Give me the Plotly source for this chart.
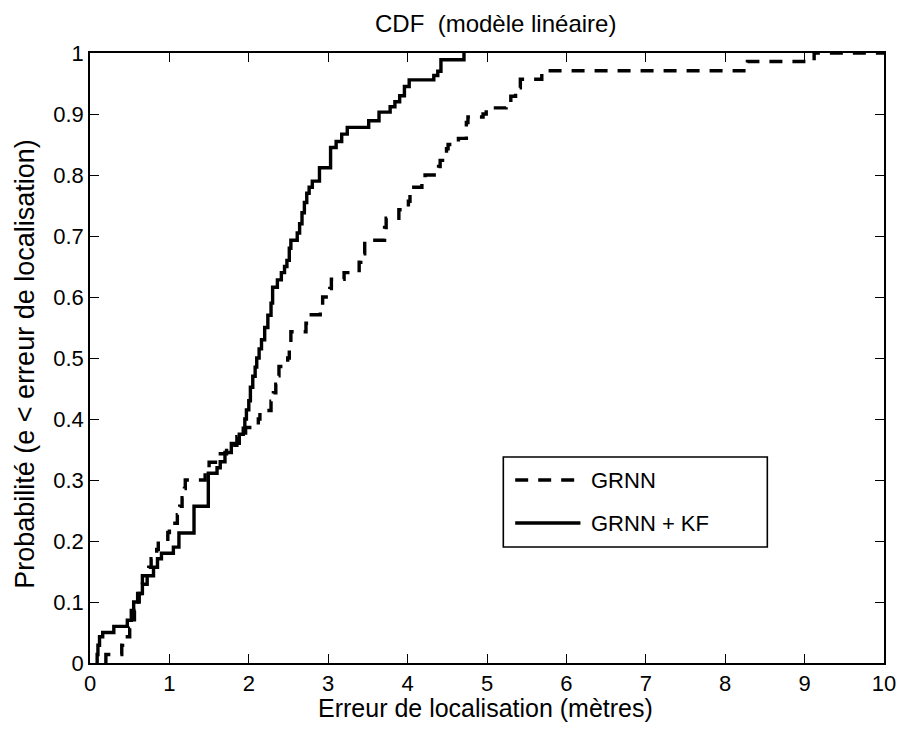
import plotly.graph_objects as go

# Empirical CDF breakpoints of the localisation error (metres)
kf_err = [0.09, 0.09, 0.10, 0.12, 0.16, 0.30, 0.47, 0.52, 0.55, 0.60, 0.66,
          0.72, 0.80, 0.85, 0.90, 1.05, 1.12, 1.31, 1.49, 1.60, 1.64,
          1.70, 1.78, 1.88, 1.93, 1.95, 1.97, 2.00, 2.02, 2.05, 2.08,
          2.10, 2.13, 2.16, 2.20, 2.24, 2.28, 2.30, 2.36, 2.41, 2.45,
          2.48, 2.51, 2.53, 2.61, 2.64, 2.67, 2.70, 2.73, 2.76, 2.80,
          2.89, 3.03, 3.10, 3.17, 3.24, 3.51, 3.64, 3.78, 3.84, 3.90,
          3.96, 4.02, 4.33, 4.38, 4.42, 4.71]
kf_prob = [0.0, 0.014, 0.029, 0.043, 0.05, 0.06, 0.07, 0.086, 0.10, 0.114, 0.129,
           0.143, 0.157, 0.171, 0.18, 0.19, 0.213, 0.257, 0.311, 0.32, 0.33,
           0.345, 0.36, 0.375, 0.385, 0.40, 0.415, 0.43, 0.452, 0.47, 0.485,
           0.50, 0.515, 0.53, 0.55, 0.57, 0.59, 0.616, 0.628, 0.64, 0.65,
           0.66, 0.68, 0.693, 0.705, 0.72, 0.738, 0.755, 0.77, 0.78, 0.79,
           0.812, 0.845, 0.855, 0.867, 0.878, 0.889, 0.903, 0.912, 0.92, 0.93,
           0.945, 0.956, 0.963, 0.97, 0.989, 1.0]

grnn_err = [0.20, 0.20, 0.40, 0.41, 0.50, 0.53, 0.56, 0.58, 0.62, 0.64, 0.66,
            0.74, 0.77, 0.84, 0.86, 0.98, 1.00, 1.10, 1.13, 1.16, 1.19,
            1.20, 1.45, 1.50, 1.62, 1.72, 1.85, 1.96, 2.12, 2.14, 2.28,
            2.31, 2.34, 2.36, 2.38, 2.49, 2.51, 2.53, 2.72, 2.75, 2.90,
            2.93, 3.02, 3.04, 3.20, 3.39, 3.41, 3.46, 3.71, 3.73, 3.89,
            4.01, 4.03, 4.05, 4.18, 4.22, 4.39, 4.41, 4.49, 4.51, 4.64,
            4.74, 4.76, 4.95, 4.99, 5.24, 5.30, 5.36, 5.42, 5.69, 8.28,
            9.12, 10.0]
grnn_prob = [0.0, 0.014, 0.029, 0.043, 0.057, 0.071, 0.086, 0.10, 0.114, 0.129, 0.143,
             0.157, 0.171, 0.186, 0.20, 0.214, 0.229, 0.243, 0.257, 0.271, 0.286,
             0.30, 0.314, 0.329, 0.343, 0.357, 0.371, 0.386, 0.40, 0.414, 0.429,
             0.443, 0.457, 0.471, 0.486, 0.50, 0.514, 0.543, 0.557, 0.571, 0.586,
             0.60, 0.614, 0.629, 0.64, 0.657, 0.671, 0.693, 0.714, 0.729, 0.743,
             0.757, 0.771, 0.78, 0.786, 0.80, 0.814, 0.824, 0.843, 0.85, 0.86,
             0.886, 0.895, 0.90, 0.91, 0.914, 0.929, 0.943, 0.957, 0.971, 0.986,
             1.0, 1.0]

x_ticks = list(range(0, 11))
y_ticks = [0, 0.1, 0.2, 0.3, 0.4, 0.5, 0.6, 0.7, 0.8, 0.9, 1]
y_tick_text = ["0", "0.1", "0.2", "0.3", "0.4", "0.5", "0.6", "0.7", "0.8", "0.9", "1"]

series_names = ["GRNN", "GRNN + KF"]
title_text = "CDF  (modèle linéaire)"
x_title = "Erreur de localisation (mètres)"
y_title = "Probabilité (e < erreur de localisation)"

FONT = "Liberation Sans, Arial, Helvetica, sans-serif"
W, H = 908, 731
L, R, T, B = 90, 15, 53, 68
LW = 3.4
DASH = "13px,10px"

fig = go.Figure()
fig.add_trace(go.Scatter(x=grnn_err, y=grnn_prob, mode="lines", line_shape="hv",
                         name=series_names[0], showlegend=False,
                         line=dict(color="black", width=LW, dash=DASH)))
fig.add_trace(go.Scatter(x=kf_err, y=kf_prob, mode="lines", line_shape="hv",
                         name=series_names[1], showlegend=False,
                         line=dict(color="black", width=LW)))

axis_common = dict(showline=True, linecolor="black", linewidth=1.6, mirror="allticks",
                   ticks="inside", ticklen=9, tickwidth=1.3, tickcolor="black",
                   showgrid=False, zeroline=False,
                   tickfont=dict(family=FONT, size=22, color="black"))

fig.update_xaxes(range=[0, 10], tickvals=x_ticks, **axis_common)
fig.update_yaxes(range=[0, 1], tickvals=y_ticks, ticktext=y_tick_text, **axis_common)

# helpers converting pixel positions to plot-area (paper) fractions
pw, ph = W - L - R, H - T - B
def px(xp):
    return (xp - L) / pw
def py(yp):
    return (H - B - yp) / ph

# axis titles and chart title
fig.add_annotation(xref="paper", yref="paper", x=px(490), y=py(708),
                   xanchor="center", yanchor="middle", showarrow=False, text=x_title,
                   font=dict(family=FONT, size=25, color="black"))
fig.add_annotation(xref="paper", yref="paper", x=px(24), y=py(364),
                   xanchor="center", yanchor="middle", showarrow=False, text=y_title,
                   textangle=-90, font=dict(family=FONT, size=27, color="black"))
fig.add_annotation(xref="paper", yref="paper", x=px(500), y=py(24),
                   xanchor="center", yanchor="middle", showarrow=False, text=title_text,
                   font=dict(family=FONT, size=24, color="black"))

# legend box
fig.add_shape(type="rect", xref="paper", yref="paper",
              x0=px(508), x1=px(775), y0=py(547), y1=py(457),
              line=dict(color="black", width=1.6), fillcolor="white", layer="above")
entries = [(480, dict(color="black", width=LW, dash=DASH)),
           (523, dict(color="black", width=LW))]
for (yp, ln), name in zip(entries, series_names):
    fig.add_shape(type="line", xref="paper", yref="paper",
                  x0=px(520), x1=px(586), y0=py(yp), y1=py(yp), line=ln, layer="above")
    fig.add_annotation(xref="paper", yref="paper", x=px(595), y=py(yp),
                       xanchor="left", yanchor="middle", showarrow=False, text=name,
                       font=dict(family=FONT, size=22, color="black"))

fig.update_layout(
    width=W, height=H, margin=dict(l=L, r=R, t=T, b=B),
    paper_bgcolor="white", plot_bgcolor="white",
)

fig.write_html("out.html")
